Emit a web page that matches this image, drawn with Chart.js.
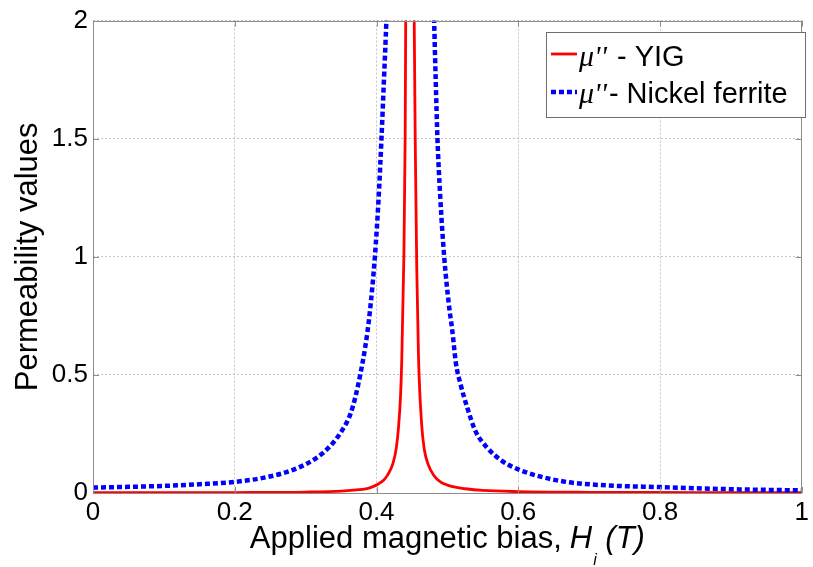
<!DOCTYPE html>
<html>
<head>
<meta charset="utf-8">
<script src="https://cdn.jsdelivr.net/npm/chart.js@4/dist/chart.umd.min.js"></script>
<style>
  html, body { margin: 0; padding: 0; background: #ffffff; }
  #wrap { position: relative; width: 813px; height: 567px; }
</style>
</head>
<body>
<div id="wrap"><canvas id="c" width="813" height="567"></canvas></div>
<script>
// ---- data ----
const yigH  = [0, 0.1, 0.2, 0.3, 0.35, 0.375, 0.388, 0.395, 0.402, 0.41, 0.416, 0.4232, 0.4279, 0.4311, 0.4339, 0.4355, 0.4386, 0.4404, 0.4412, 0.447, 0.4532, 0.4548, 0.4568, 0.4593, 0.4637, 0.4674, 0.473, 0.4804, 0.4906, 0.5092, 0.5255, 0.55, 0.6, 0.7, 0.85, 1.0];
const yigMu = [0.001, 0.0015, 0.002, 0.004, 0.008, 0.014, 0.02, 0.027, 0.037, 0.054, 0.078, 0.125, 0.19, 0.28, 0.41, 0.55, 1.0, 1.5, 2.0, 6.0, 2.0, 1.45, 0.95, 0.57, 0.29, 0.185, 0.12, 0.076, 0.046, 0.026, 0.018, 0.011, 0.006, 0.003, 0.002, 0.001];

const niH  = [0, 0.05, 0.1, 0.15, 0.2, 0.2465, 0.284, 0.316, 0.335, 0.351, 0.363, 0.370, 0.377, 0.384, 0.390, 0.3977, 0.403, 0.407, 0.4105, 0.4139, 0.42, 0.449, 0.476, 0.4813, 0.4835, 0.486, 0.490, 0.4955, 0.502, 0.507, 0.512, 0.5186, 0.528, 0.5395, 0.556, 0.577, 0.60, 0.633, 0.67, 0.726, 0.8, 0.9, 1.0];
const niMu = [0.023, 0.026, 0.030, 0.037, 0.047, 0.068, 0.10, 0.15, 0.20, 0.263, 0.333, 0.404, 0.50, 0.616, 0.75, 1.0, 1.25, 1.5, 1.75, 2.0, 2.6, 5.0, 2.6, 2.0, 1.75, 1.5, 1.25, 1.0, 0.80, 0.686, 0.55, 0.46, 0.362, 0.263, 0.192, 0.136, 0.10, 0.068, 0.046, 0.032, 0.025, 0.016, 0.011];

const xTickVals = [0, 0.2, 0.4, 0.6, 0.8, 1];
const xTickLabels = ["0", "0.2", "0.4", "0.6", "0.8", "1"];
const yTickVals = [0, 0.5, 1, 1.5, 2];
const yTickLabels = ["0", "0.5", "1", "1.5", "2"];

const seriesNames = ["YIG", "Nickel ferrite"];
const yTitle = "Permeability values";
const xTitle = ["Applied magnetic bias,", "H", "i", "(T)"];

const FONT = "'Liberation Sans', Arial, Helvetica, sans-serif";

const toXY = (xs, ys) => xs.map((v, i) => ({ x: v, y: ys[i] }));

const frame = {
  id: 'frame',
  afterDatasetsDraw(chart) {
    const { ctx, chartArea: { left, right, top, bottom }, scales: { x, y } } = chart;
    ctx.save();
    ctx.strokeStyle = '#8c8c8c';
    ctx.lineWidth = 1;
    ctx.beginPath();
    xTickVals.forEach(v => {
      const px = Math.round(x.getPixelForValue(v)) + 0.5;
      ctx.moveTo(px, bottom); ctx.lineTo(px, bottom - 6);
      ctx.moveTo(px, top); ctx.lineTo(px, top + 6);
    });
    yTickVals.forEach(v => {
      const py = Math.round(y.getPixelForValue(v)) + 0.5;
      ctx.moveTo(left, py); ctx.lineTo(left + 6, py);
      ctx.moveTo(right, py); ctx.lineTo(right - 6, py);
    });
    ctx.stroke();
    ctx.strokeRect(Math.round(left) + 0.5, Math.round(top) + 0.5, Math.round(right - left) - 1, Math.round(bottom - top));
    ctx.restore();
  },
  afterDraw(chart) {
    const { ctx, chartArea: { left, right } } = chart;
    ctx.save();
    // x title with italic H_i (T)
    const fN = "31px " + FONT, fI = "italic 31px " + FONT, fS = "italic 16px " + FONT;
    ctx.textBaseline = 'alphabetic';
    ctx.fillStyle = '#000';
    ctx.font = fN; const w0 = ctx.measureText(xTitle[0]).width; const gap = ctx.measureText(' ').width;
    ctx.font = fI; const w1 = ctx.measureText(xTitle[1]).width;
    ctx.font = fS; const w2 = ctx.measureText(xTitle[2]).width;
    ctx.font = fI; const w3 = ctx.measureText(xTitle[3]).width;
    const g1 = 8, g2 = 1, g3 = gap;
    const total = w0 + g1 + w1 + g2 + w2 + g3 + w3;
    let sx = (left + right) / 2 - total / 2;
    const by = 548;
    ctx.font = fN; ctx.fillText(xTitle[0], sx, by); sx += w0 + g1;
    ctx.font = fI; ctx.fillText(xTitle[1], sx, by); sx += w1 + g2;
    ctx.font = fS; ctx.fillText(xTitle[2], sx, by + 17); sx += w2 + g3;
    ctx.font = fI; ctx.fillText(xTitle[3], sx, by);

    // legend
    const bx = 546, byTop = 32, bw = 259, bh = 85;
    ctx.fillStyle = '#ffffff';
    ctx.fillRect(bx, byTop, bw, bh);
    ctx.strokeStyle = '#6e6e6e';
    ctx.lineWidth = 1;
    ctx.strokeRect(bx + 0.5, byTop + 0.5, bw, bh);
    const rows = [
      { y: 54, base: 66, ds: chart.data.datasets[0], sep: " - " },
      { y: 92, base: 103, ds: chart.data.datasets[1], sep: "- " }
    ];
    rows.forEach(r => {
      ctx.save();
      ctx.strokeStyle = r.ds.borderColor;
      ctx.lineWidth = r.ds.borderWidth;
      ctx.setLineDash(r.ds.borderDash || []);
      ctx.beginPath();
      ctx.moveTo(551, r.y); ctx.lineTo(577, r.y);
      ctx.stroke();
      ctx.restore();
      ctx.fillStyle = '#000';
      let tx = 579;
      ctx.font = "italic 30px 'Liberation Serif', 'Times New Roman', serif";
      ctx.fillText("\u03bc''", tx, r.base);
      tx += ctx.measureText("\u03bc''").width + 2;
      ctx.font = "29px " + FONT;
      ctx.fillText(r.sep + r.ds.shortName, tx, r.base);
    });
    ctx.restore();
  }
};

new Chart(document.getElementById('c'), {
  type: 'line',
  data: {
    datasets: [
      {
        label: "\u03bc'' - " + seriesNames[0],
        shortName: seriesNames[0],
        data: toXY(yigH, yigMu),
        borderColor: '#ff0000',
        borderWidth: 2.8,
        pointRadius: 0,
        cubicInterpolationMode: 'monotone',
        fill: false,
        order: 1
      },
      {
        label: "\u03bc''- " + seriesNames[1],
        shortName: seriesNames[1],
        data: toXY(niH, niMu),
        borderColor: '#0000ff',
        borderWidth: 4.5,
        borderDash: [5, 3],
        pointRadius: 0,
        cubicInterpolationMode: 'monotone',
        fill: false,
        order: 0
      }
    ]
  },
  options: {
    responsive: false,
    animation: false,
    layout: { padding: { left: 0, right: 5, top: 18, bottom: 0 } },
    plugins: { legend: { display: false }, tooltip: { enabled: false } },
    scales: {
      x: {
        type: 'linear', min: 0, max: 1,
        afterBuildTicks: s => { s.ticks = xTickVals.map(v => ({ value: v })); },
        afterFit: s => { s.height = 74; },
        grid: { color: '#c4c4c4', lineWidth: 1, drawTicks: false },
        border: { display: false, dash: [2, 2] },
        ticks: {
          padding: 4,
          color: '#000',
          font: { family: FONT, size: 26 },
          maxRotation: 0,
          callback: (v) => { const i = xTickVals.indexOf(v); return i >= 0 ? xTickLabels[i] : ''; }
        }
      },
      y: {
        type: 'linear', min: 0, max: 2,
        afterBuildTicks: s => { s.ticks = yTickVals.map(v => ({ value: v })); },
        afterFit: s => { s.width = 93; },
        grid: { color: '#c4c4c4', lineWidth: 1, drawTicks: false },
        border: { display: false, dash: [2, 2] },
        ticks: {
          padding: 5,
          color: '#000',
          font: { family: FONT, size: 26 },
          callback: (v) => { const i = yTickVals.indexOf(v); return i >= 0 ? yTickLabels[i] : ''; }
        },
        title: {
          display: true,
          text: yTitle,
          color: '#000',
          font: { family: FONT, size: 31 },
          padding: { top: 10, bottom: 0 }
        }
      }
    }
  },
  plugins: [frame]
});
</script>
</body>
</html>
